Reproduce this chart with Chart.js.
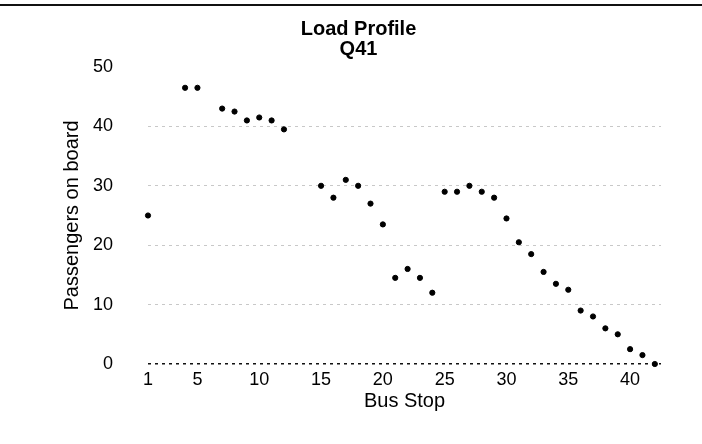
<!DOCTYPE html>
<html>
<head>
<meta charset="utf-8">
<title>Load Profile Q41</title>
<script src="https://cdn.jsdelivr.net/npm/chart.js@4"></script>
<style>
	body { margin: 0; background: #fff; }
	#wrap { position: relative; width: 702px; height: 444px; }
	#rule { position: absolute; left: 0; top: 4px; width: 702px; height: 2px; background: #111; }
</style>
</head>
<body>
<div id="wrap">
	<canvas id="chart"></canvas>
	<div id="rule"></div>
</div>
<script>
// bus stops with a readable point, and passengers on board after each one
var stops	= [1, 4, 5, 7, 8, 9, 10, 11, 12, 15, 16, 17, 18, 19, 20, 21, 22, 23, 24, 25, 26, 27, 28, 29, 30, 31, 32, 33, 34, 35, 36, 37, 38, 39, 40, 41, 42];
var load	= [25, 46.5, 46.5, 43, 42.5, 41, 41.5, 41, 39.5, 30, 28, 31, 30, 27, 23.5, 14.5, 16, 14.5, 12, 29, 29, 30, 29, 28, 24.5, 20.5, 18.5, 15.5, 13.5, 12.5, 9, 8, 6, 5, 2.5, 1.5, 0];
var xTicks	= [1, 5, 10, 15, 20, 25, 30, 35, 40];
var yTicks	= [0, 10, 20, 30, 40, 50];

var points = stops.map(function(s, i) { return { x: s, y: load[i] }; });
var font = "'Liberation Sans', Arial, sans-serif";

window.onload = function() {
	new Chart(document.getElementById("chart"), {
		type: "scatter",
		data: {
			datasets: [{
				data: points,
				backgroundColor: "#000",
				borderColor: "#000",
				pointRadius: 2.6,
				pointHoverRadius: 2.6,
				showLine: false,
				clip: false
			}]
		},
		options: {
			responsive: true,
			maintainAspectRatio: false,
			animation: false,
			layout: { padding: { left: 56, right: 41, top: 0, bottom: 0 } },
			plugins: {
				legend: { display: false },
				tooltip: { enabled: false },
				title: {
					display: true,
					text: ["Load Profile", "Q41"],
					color: "#000",
					font: { family: font, size: 20, weight: "bold", lineHeight: 1.0 },
					padding: { top: 19, bottom: 8 }
				}
			},
			scales: {
				x: {
					type: "linear",
					min: 1,
					max: 42.5,
					afterBuildTicks: function(s) { s.ticks = xTicks.map(function(v) { return { value: v }; }); },
					afterFit: function(s) { s.height = 80; },
					grid: { display: false },
					border: { display: false },
					ticks: { color: "#000", font: { family: font, size: 18 }, padding: -3, autoSkip: false, maxRotation: 0 },
					title: { display: true, text: "Bus Stop", color: "#000", font: { family: font, size: 20 }, padding: { top: 0, bottom: 31 } }
				},
				y: {
					min: 0,
					max: 50,
					afterBuildTicks: function(s) { s.ticks = yTicks.map(function(v) { return { value: v }; }); },
					afterFit: function(s) { s.width = 92; },
					grid: {
						drawTicks: false,
						lineWidth: function(c) { return c.tick.value === 0 ? 1.5 : 1; },
						color: function(c) {
							if (c.tick.value === 0) return "#111";
							if (c.tick.value === 50) return "rgba(0,0,0,0)";
							return "#c8c8c8";
						}
					},
					border: { display: false, dash: [3, 4] },
					ticks: { color: "#000", font: { family: font, size: 18 }, padding: 35 },
					title: { display: true, text: "Passengers on board", color: "#000", font: { family: font, size: 20 }, padding: { top: 4, bottom: 4 } }
				}
			}
		}
	});
};
</script>
</body>
</html>
